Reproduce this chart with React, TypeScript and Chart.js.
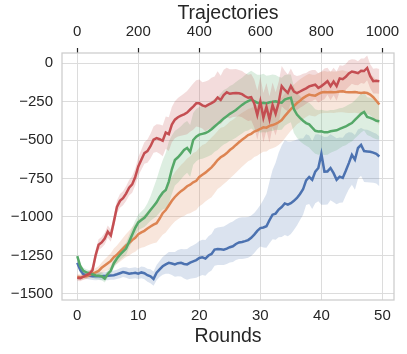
import React, { useEffect, useRef } from "react";
import { Chart, registerables } from "chart.js";
Chart.register(...registerables);

// x positions (rounds), every half round
const rounds: number[] = Array.from({ length: 100 }, (_, i) => i * 0.5);
const xTicks = [0, 10, 20, 30, 40, 50];
const trajTicks = [0, 200, 400, 600, 800, 1000];
const yTicks = [-1500, -1250, -1000, -750, -500, -250, 0];

const redMean = [
  -1395, -1398, -1388, -1378, -1368, -1345, -1250, -1180, -1165, -1140,
  -1095, -1120, -1030, -935, -895, -878, -848, -810, -788, -740,
  -672, -628, -585, -572, -540, -498, -488, -495, -505, -452,
  -462, -400, -368, -352, -342, -333, -322, -302, -283, -262,
  -262, -275, -282, -270, -260, -248, -224, -240, -208, -190,
  -200, -196, -194, -196, -202, -216, -226, -222, -262, -338,
  -250, -355, -285, -366, -272, -330, -258, -150, -175, -194,
  -150, -186, -195, -185, -174, -165, -152, -146, -140, -162,
  -150, -135, -118, -150, -120, -150, -100, -105, -90, -68,
  -55, -60, -66, -50, -52, -32, -86, -118, -116, -119,
];
const redSpread = [
  20, 20, 20, 22, 22, 25, 35, 35, 35, 38,
  40, 40, 40, 42, 45, 45, 48, 50, 55, 55,
  60, 65, 70, 75, 80, 85, 90, 95, 100, 105,
  110, 115, 120, 125, 130, 135, 140, 145, 150, 150,
  155, 150, 162, 158, 165, 160, 170, 158, 165, 160,
  160, 155, 155, 150, 150, 150, 150, 150, 155, 160,
  160, 160, 155, 150, 145, 140, 135, 130, 125, 120,
  115, 110, 110, 105, 105, 100, 100, 100, 95, 95,
  95, 100, 88, 92, 90, 95, 85, 88, 84, 86,
  80, 82, 78, 80, 82, 80, 78, 80, 82, 80,
];

const greenMean = [
  -1254, -1320, -1350, -1360, -1365, -1372, -1380, -1382, -1385, -1400,
  -1370, -1348, -1300, -1270, -1245, -1225, -1205, -1160, -1115, -1070,
  -1035, -1020, -1005, -980, -955, -930, -905, -870, -842, -825,
  -770, -690, -630, -612, -590, -565, -552, -578, -500, -478,
  -465, -460, -455, -445, -430, -412, -395, -378, -360, -345,
  -330, -318, -305, -288, -272, -258, -248, -238, -248, -258,
  -262, -258, -262, -255, -252, -248, -255, -258, -238, -230,
  -225, -300, -335, -356, -375, -390, -398, -420, -440, -445,
  -443, -450, -450, -443, -440, -437, -428, -420, -412, -400,
  -390, -370, -350, -330, -318, -350, -356, -365, -375, -378,
];
const greenUp = [
  15, 18, 20, 20, 20, 22, 22, 22, 25, 25,
  25, 28, 30, 32, 35, 38, 40, 42, 45, 48,
  50, 55, 60, 70, 90, 120, 150, 180, 210, 240,
  260, 220, 190, 185, 180, 175, 175, 175, 175, 180,
  180, 182, 178, 180, 184, 180, 176, 180, 184, 180,
  180, 178, 182, 180, 176, 180, 185, 188, 185, 182,
  185, 188, 180, 175, 178, 170, 165, 162, 160, 155,
  150, 145, 140, 142, 140, 138, 140, 142, 140, 138,
  140, 142, 140, 138, 135, 136, 135, 130, 132, 130,
  130, 128, 130, 132, 130, 128, 130, 132, 130, 130,
];
const greenDown = [
  15, 18, 20, 20, 20, 22, 22, 22, 25, 25,
  25, 28, 30, 32, 35, 38, 40, 42, 45, 48,
  50, 55, 60, 65, 70, 80, 90, 100, 110, 120,
  140, 160, 165, 165, 165, 165, 160, 160, 160, 160,
  160, 162, 158, 160, 165, 165, 170, 168, 170, 175,
  175, 178, 180, 182, 185, 185, 190, 188, 190, 190,
  190, 192, 190, 188, 190, 185, 180, 175, 170, 165,
  160, 155, 150, 152, 150, 148, 150, 152, 150, 150,
  150, 148, 145, 140, 135, 130, 125, 120, 122, 120,
  120, 118, 120, 122, 120, 118, 120, 122, 120, 120,
];

const orangeMean = [
  -1390, -1392, -1388, -1385, -1378, -1368, -1360, -1350, -1330, -1315,
  -1300, -1285, -1260, -1245, -1225, -1205, -1185, -1170, -1150, -1135,
  -1112, -1100, -1090, -1075, -1062, -1050, -1040, -1010, -975, -955,
  -925, -895, -870, -850, -832, -818, -800, -790, -775, -765,
  -740, -725, -712, -695, -678, -655, -630, -612, -600, -585,
  -565, -550, -532, -515, -498, -484, -468, -460, -445, -438,
  -428, -418, -420, -408, -403, -395, -385, -370, -345, -322,
  -300, -280, -260, -245, -228, -215, -205, -210, -212, -200,
  -192, -188, -190, -188, -190, -188, -185, -183, -188, -190,
  -190, -188, -192, -194, -192, -195, -205, -222, -245, -270,
];
const orangeSpread = [
  18, 18, 20, 20, 22, 25, 28, 30, 35, 40,
  45, 50, 55, 60, 65, 70, 75, 80, 85, 90,
  95, 100, 105, 110, 115, 120, 125, 130, 140, 145,
  150, 155, 160, 165, 170, 175, 180, 185, 190, 190,
  190, 192, 188, 190, 194, 190, 188, 192, 185, 185,
  185, 182, 180, 178, 175, 172, 170, 168, 165, 165,
  160, 158, 155, 152, 150, 150, 148, 145, 145, 142,
  140, 140, 138, 140, 135, 136, 135, 134, 135, 135,
  135, 136, 134, 135, 135, 133, 135, 136, 135, 134,
  135, 135, 134, 135, 136, 135, 135, 134, 135, 135,
];

const blueMean = [
  -1297, -1345, -1372, -1380, -1382, -1385, -1385, -1384, -1385, -1383,
  -1382, -1380, -1378, -1372, -1365, -1358, -1362, -1368, -1366, -1362,
  -1368, -1360, -1365, -1378, -1385, -1402, -1362, -1340, -1320, -1308,
  -1298, -1302, -1308, -1300, -1297, -1305, -1308, -1296, -1288, -1280,
  -1266, -1262, -1270, -1250, -1240, -1212, -1208, -1210, -1212, -1205,
  -1196, -1190, -1175, -1165, -1162, -1157, -1150, -1135, -1114, -1090,
  -1072, -1068, -1060, -1020, -985, -978, -952, -935, -912, -920,
  -910, -895, -876, -850, -820, -762, -740, -758, -705, -682,
  -590, -705, -704, -682, -715, -758, -738, -746, -700, -650,
  -596, -628, -552, -532, -572, -574, -576, -582, -590, -607,
];
const blueUp = [
  20, 22, 22, 22, 24, 24, 25, 25, 26, 26,
  28, 28, 30, 30, 32, 32, 35, 35, 36, 36,
  35, 38, 40, 42, 45, 48, 50, 55, 60, 65,
  70, 75, 80, 85, 90, 95, 100, 102, 105, 108,
  110, 115, 120, 125, 130, 135, 140, 145, 150, 155,
  158, 160, 160, 160, 160, 155, 150, 145, 140, 140,
  150, 180, 210, 250, 290, 330, 370, 400, 410, 410,
  400, 390, 380, 360, 330, 300, 270, 250, 240, 220,
  120, 225, 225, 220, 240, 270, 255, 260, 240, 200,
  145, 160, 120, 110, 140, 140, 135, 130, 130, 130,
];
const blueDown = [
  20, 22, 22, 22, 24, 24, 25, 25, 26, 26,
  28, 28, 30, 30, 32, 32, 33, 34, 35, 35,
  35, 38, 40, 42, 45, 45, 48, 50, 55, 60,
  70, 75, 80, 85, 90, 95, 100, 105, 110, 115,
  118, 115, 112, 110, 108, 105, 104, 102, 100, 100,
  100, 102, 105, 108, 110, 112, 115, 118, 120, 120,
  120, 130, 140, 150, 160, 170, 180, 195, 205, 205,
  200, 190, 180, 170, 165, 160, 175, 190, 205, 215,
  330, 215, 215, 210, 190, 160, 170, 160, 160, 170,
  195, 195, 200, 200, 200, 200, 200, 195, 193, 193,
];

const TEXT = "#262626";
const GRID = "#dcdcdc";
const FONT = "'Liberation Sans', Arial, sans-serif";

type S = { color: number[]; mean: number[]; up: number[]; down: number[] };
const series: S[] = [
  { color: [196, 78, 82], mean: redMean, up: redSpread, down: redSpread },
  { color: [85, 168, 104], mean: greenMean, up: greenUp, down: greenDown },
  { color: [221, 132, 82], mean: orangeMean, up: orangeSpread, down: orangeSpread },
  { color: [76, 114, 176], mean: blueMean, up: blueUp, down: blueDown },
];

const fmt = (v: number) => (v < 0 ? "\u2212" + Math.abs(v) : String(v));

const framePlugin = {
  id: "frame",
  beforeDatasetsDraw(chart: any) {
    const { ctx, chartArea: a } = chart;
    ctx.save();
    ctx.strokeStyle = "#cccccc";
    ctx.lineWidth = 1.25;
    ctx.strokeRect(a.left, a.top, a.right - a.left, a.bottom - a.top);
    ctx.restore();
  },
};

export default function App() {
  const ref = useRef<HTMLCanvasElement>(null);
  useEffect(() => {
    if (!ref.current) return;
    const lines: any[] = series.map((s) => ({
      data: rounds.map((x, i) => ({ x, y: s.mean[i] })),
      borderColor: `rgb(${s.color.join(",")})`,
      borderWidth: 2.5,
      pointRadius: 0,
      fill: false,
      tension: 0,
    }));
    const bands: any[] = [];
    series.forEach((s) => {
      const hiIndex = lines.length + bands.length;
      bands.push({
        data: rounds.map((x, i) => ({ x, y: s.mean[i] + s.up[i] })),
        borderColor: "transparent",
        borderWidth: 0,
        pointRadius: 0,
        fill: false,
      });
      bands.push({
        data: rounds.map((x, i) => ({ x, y: s.mean[i] - s.down[i] })),
        borderColor: "transparent",
        borderWidth: 0,
        pointRadius: 0,
        fill: { target: hiIndex },
        backgroundColor: `rgba(${s.color.join(",")},0.2)`,
      });
    });

    const chart = new Chart(ref.current, {
      type: "line",
      data: { datasets: [...lines, ...bands] },
      plugins: [framePlugin],
      options: {
        animation: false,
        responsive: false,
        devicePixelRatio: 1,
        layout: { padding: { left: 0, right: 13, top: 0, bottom: 0 } },
        plugins: {
          legend: { display: false },
          tooltip: { enabled: false },
          filler: { drawTime: "beforeDatasetsDraw" },
        },
        scales: {
          x: {
            type: "linear",
            position: "bottom",
            min: -2.5,
            max: 51.9,
            afterBuildTicks: (sc: any) => {
              sc.ticks = xTicks.map((v) => ({ value: v }));
            },
            ticks: {
              font: { family: FONT, size: 15 },
              color: TEXT,
              padding: 7,
              maxRotation: 0,
              callback: (v: any) => String(v),
            },
            grid: { color: GRID, lineWidth: 1, drawTicks: false },
            border: { display: false },
            title: {
              display: true,
              text: "Rounds",
              font: { family: FONT, size: 19.5 },
              color: TEXT,
              padding: { top: 0, bottom: 6 },
            },
            afterFit: (sc: any) => {
              sc.height = 54;
            },
          },
          x2: {
            type: "linear",
            position: "top",
            min: -50,
            max: 1038,
            afterBuildTicks: (sc: any) => {
              sc.ticks = trajTicks.map((v) => ({ value: v }));
            },
            ticks: {
              font: { family: FONT, size: 15 },
              color: TEXT,
              padding: 7,
              maxRotation: 0,
              callback: (v: any) => String(v),
            },
            grid: {
              drawOnChartArea: false,
              drawTicks: true,
              tickLength: 5,
              tickColor: TEXT,
              tickWidth: 1.2,
              color: GRID,
            },
            border: { display: false },
            title: {
              display: true,
              text: "Trajectories",
              font: { family: FONT, size: 19.5 },
              color: TEXT,
              padding: { top: 2, bottom: 0 },
            },
            afterFit: (sc: any) => {
              sc.height = 53;
            },
          },
          y: {
            type: "linear",
            min: -1539,
            max: 65,
            afterBuildTicks: (sc: any) => {
              sc.ticks = yTicks.map((v) => ({ value: v }));
            },
            ticks: {
              font: { family: FONT, size: 15 },
              color: TEXT,
              padding: 9,
              callback: (v: any) => fmt(Number(v)),
            },
            grid: { color: GRID, lineWidth: 1, drawTicks: false },
            border: { display: false },
            afterFit: (sc: any) => {
              sc.width = 62;
            },
          },
        },
      } as any,
    });
    return () => chart.destroy();
  }, []);

  return (
    <div style={{ position: "absolute", left: 0, top: 0, width: 407, height: 354, background: "#fff" }}>
      <canvas ref={ref} width={407} height={354} style={{ display: "block" }} />
    </div>
  );
}
